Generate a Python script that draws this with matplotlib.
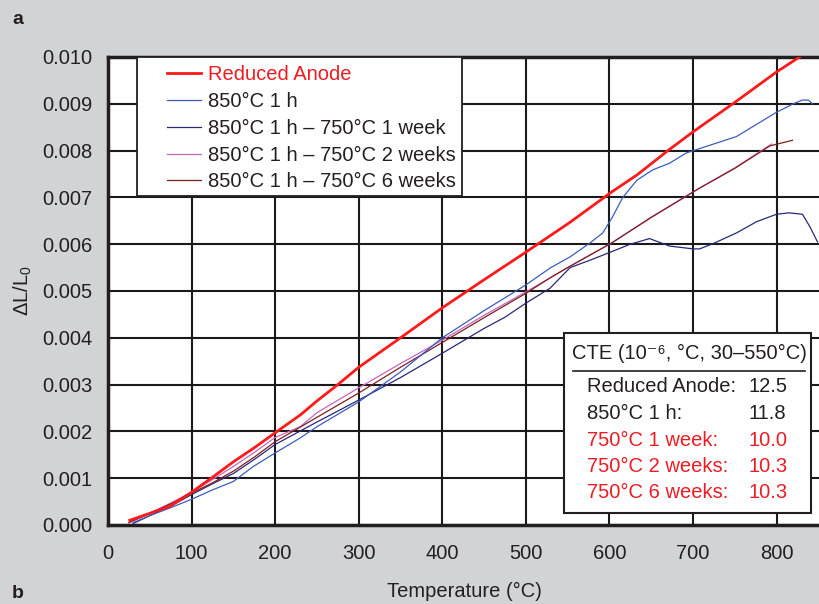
import matplotlib
matplotlib.use("Agg")
import matplotlib.pyplot as plt
from matplotlib.patches import Rectangle

FONT = ["Liberation Sans", "DejaVu Sans"]
plt.rcParams["font.family"] = FONT
plt.rcParams["mathtext.fontset"] = "custom"
plt.rcParams["mathtext.rm"] = "Liberation Sans"
plt.rcParams["mathtext.it"] = "Liberation Sans"

FS = 14.5

# data (temperature in C, dL/L0)
red_t = [26, 50, 74, 100, 125, 150, 175, 200, 230, 250, 275, 300, 350, 400, 450, 500,
         553, 603, 633, 670, 700, 750, 800, 830]
red_v = [0.0001, 0.00025, 0.0004, 0.0007, 0.00102, 0.00135, 0.00165, 0.00197, 0.00235,
         0.00265, 0.0030, 0.00337, 0.0040, 0.00464, 0.00524, 0.00583, 0.00647, 0.00712,
         0.00748, 0.0080, 0.0084, 0.00903, 0.00968, 0.01003]

blue_t = [30, 50, 75, 100, 125, 150, 173, 200, 230, 250, 300, 350, 400, 450, 500, 529,
          553, 577, 592, 603, 616, 633, 652, 672, 692, 752, 800, 820, 831, 838, 843]
blue_v = [0.00005, 0.0002, 0.00037, 0.00055, 0.00075, 0.00093, 0.00124, 0.00154, 0.00186,
          0.0021, 0.00263, 0.00327, 0.0040, 0.00458, 0.00513, 0.00549, 0.00573, 0.00603,
          0.00624, 0.00656, 0.0070, 0.00737, 0.00759, 0.00773, 0.00795, 0.0083, 0.00882,
          0.0090, 0.00908, 0.00908, 0.0090]

navy_t = [30, 50, 75, 100, 125, 150, 175, 200, 250, 300, 350, 400, 450, 475, 500, 529,
          553, 580, 604, 625, 648, 672, 700, 708, 725, 752, 776, 800, 815, 831, 840, 849]
navy_v = [0.00003, 0.0002, 0.0004, 0.00065, 0.00088, 0.0011, 0.0014, 0.00172, 0.0022,
          0.00267, 0.00315, 0.00367, 0.0042, 0.00444, 0.00474, 0.00506, 0.0055, 0.00568,
          0.00585, 0.0060, 0.00612, 0.00596, 0.0059, 0.0059, 0.00602, 0.00624, 0.00648,
          0.00664, 0.00667, 0.00664, 0.00637, 0.00605]

pink_t = [25, 50, 75, 100, 125, 150, 175, 200, 230, 250, 300, 350, 400, 450, 500, 529,
          550, 603, 650, 708, 750, 794]
pink_v = [0.00005, 0.00025, 0.00047, 0.0007, 0.00097, 0.00125, 0.00155, 0.00187, 0.0021,
          0.0024, 0.00293, 0.00345, 0.00395, 0.00448, 0.00498, 0.00528, 0.0055, 0.00603,
          0.00658, 0.0072, 0.00763, 0.00814]

brown_t = [25, 50, 75, 100, 125, 150, 175, 200, 250, 300, 350, 400, 450, 500, 529, 550,
           603, 650, 708, 750, 792, 819]
brown_v = [0.00005, 0.00025, 0.00045, 0.00068, 0.0009, 0.00115, 0.00145, 0.00178, 0.0023,
           0.00282, 0.00337, 0.0039, 0.00443, 0.00495, 0.00528, 0.0055, 0.00603, 0.00657,
           0.0072, 0.00762, 0.0081, 0.00822]

labels = ["Reduced Anode", "850°C 1 h", "850°C 1 h – 750°C 1 week",
          "850°C 1 h – 750°C 2 weeks", "850°C 1 h – 750°C 6 weeks"]

cte_names = ["Reduced Anode:", "850°C 1 h:", "750°C 1 week:", "750°C 2 weeks:", "750°C 6 weeks:"]
cte_values = ["12.5", "11.8", "10.0", "10.3", "10.3"]
cte_colors = ["#231f20", "#231f20", "#ed1c24", "#ed1c24", "#ed1c24"]

BG = "#d1d3d4"
fig = plt.figure(figsize=(8.2, 6.04), dpi=100, facecolor=BG)
ax = fig.add_axes([108 / 820, 1 - 525 / 604, 1 - 108 / 820, (525 - 57) / 604])
ax.set_facecolor("white")

ax.plot(red_t, red_v, color="#ff1a1a", lw=2.0, label=labels[0], zorder=5)
ax.plot(blue_t, blue_v, color="#3a5dbd", lw=0.9, label=labels[1], zorder=4)
ax.plot(navy_t, navy_v, color="#27287a", lw=0.9, label=labels[2], zorder=3)
ax.plot(pink_t, pink_v, color="#c466bf", lw=0.9, label=labels[3], zorder=3)
ax.plot(brown_t, brown_v, color="#7d1f1f", lw=0.9, label=labels[4], zorder=3)

ax.set_xlim(0, 852)
ax.set_ylim(0, 0.010)
ax.set_xticks(range(0, 900, 100))
ax.set_yticks([i / 1000 for i in range(11)])
ax.set_yticklabels(["%.3f" % (i / 1000) for i in range(11)])
ax.grid(True, color="#1a1a1a", lw=1.5)
ax.set_axisbelow(True)
ax.tick_params(length=0, labelsize=FS, colors="#231f20", pad=11)
ax.tick_params(axis="x", pad=14)

for s in ["left", "bottom", "top"]:
    ax.spines[s].set_linewidth(2.5)
    ax.spines[s].set_color("#231f20")
ax.spines["right"].set_visible(False)

ax.set_xlabel("Temperature (°C)", fontsize=FS, color="#231f20", labelpad=13)
ax.set_ylabel(r"$\Delta$L/L$_0$", fontsize=FS, color="#231f20")
ax.yaxis.set_label_coords((34 - 108) / 712, 0.5)


# helpers: pixel position -> axes fraction
def ax_x(px):
    return (px - 108) / 712


def ax_y(py):
    return (525 - py) / 468


# legend frame drawn separately so the inner padding matches
ax.add_patch(Rectangle((ax_x(137), ax_y(196)), ax_x(462) - ax_x(137), ax_y(57) - ax_y(196),
                       transform=ax.transAxes, facecolor="white", edgecolor="#231f20",
                       lw=1.3, zorder=9))
leg = ax.legend(loc="upper left", bbox_to_anchor=(ax_x(167), ax_y(65)),
                borderaxespad=0, borderpad=0, fontsize=FS, frameon=False,
                handlelength=1.7, handletextpad=0.35, labelspacing=0.39)
leg.set_zorder(10)
for i, txt in enumerate(leg.get_texts()):
    txt.set_color("#ed1c24" if i == 0 else "#231f20")

# CTE box
ax.add_patch(Rectangle((ax_x(564), ax_y(513)), ax_x(811) - ax_x(564), ax_y(333) - ax_y(513),
                       transform=ax.transAxes, facecolor="white", edgecolor="#231f20",
                       lw=1.5, zorder=11))
ax.plot([ax_x(573), ax_x(805)], [ax_y(371), ax_y(371)], transform=ax.transAxes,
        color="#231f20", lw=1.2, zorder=12)
ax.text(ax_x(689), ax_y(353), "CTE (10⁻⁶, °C, 30–550°C)", transform=ax.transAxes,
        ha="center", va="center", fontsize=FS, color="#231f20", zorder=12)
for i, (name, val, col) in enumerate(zip(cte_names, cte_values, cte_colors)):
    yy = ax_y(387 + i * 26.5)
    ax.text(ax_x(587), yy, name, transform=ax.transAxes, ha="left", va="center",
            fontsize=FS, color=col, zorder=12)
    ax.text(ax_x(749), yy, val, transform=ax.transAxes, ha="left", va="center",
            fontsize=FS, color=col, zorder=12)

fig.text(12 / 820, 1 - 20 / 604, "a", fontsize=14, fontweight="bold", va="center",
         color="#231f20")
fig.text(12 / 820, 1 - 593 / 604, "b", fontsize=14, fontweight="bold", va="center",
         color="#231f20")

fig.savefig("out.png", dpi=100, facecolor=BG)
